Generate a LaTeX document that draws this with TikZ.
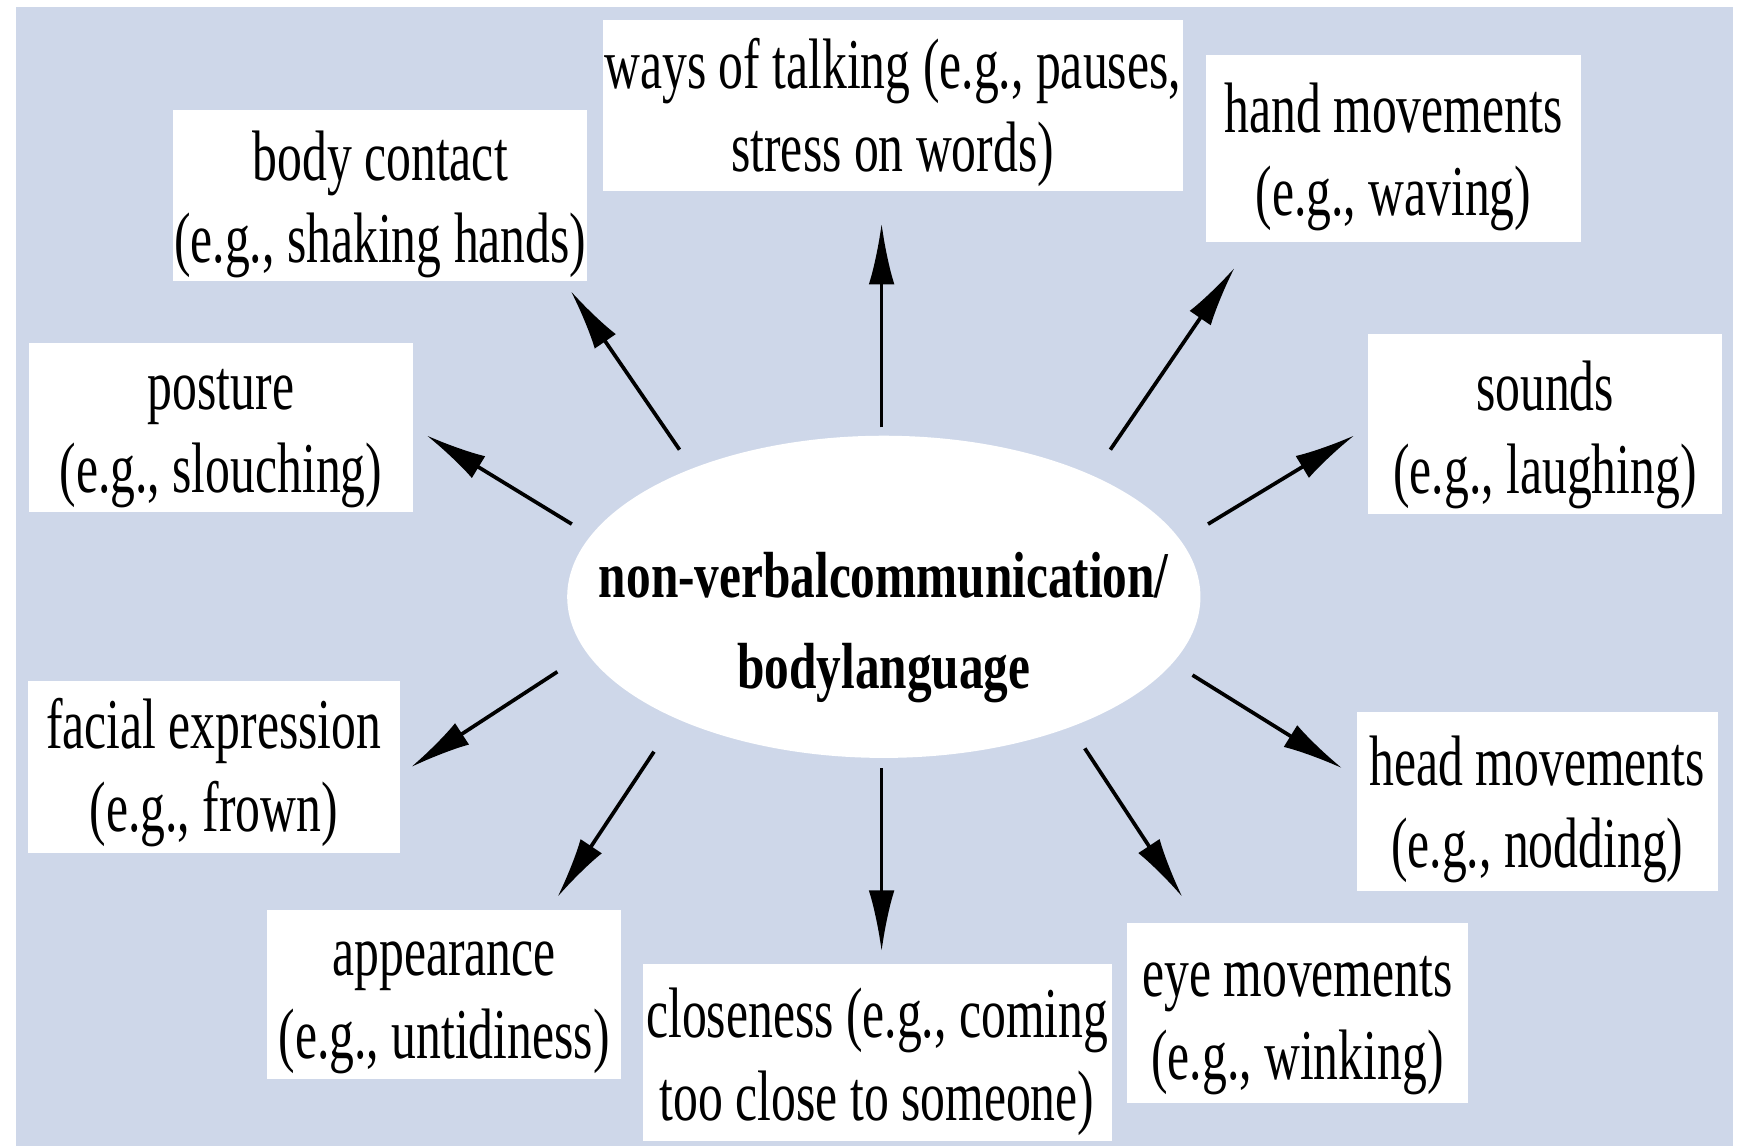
\documentclass[tikz,border=0pt]{standalone}
\usepackage{fontspec}
\setmainfont[FakeStretch=0.695]{Liberation Serif}
\newfontfamily\ellfont[FakeStretch=0.756]{Liberation Serif}
\usetikzlibrary{arrows.meta,shapes.geometric}
\definecolor{bgblue}{RGB}{206,215,233}
\begin{document}
\begin{tikzpicture}[x=0.01cm,y=-0.01cm,
  box/.style={fill=white, inner sep=0pt},
  txt/.style={inner sep=0pt, align=center, font=\fontsize{18.3}{21.2}\selectfont},
  arr/.style={-{Latex[length=5.5mm,width=2.3mm]}, line width=0.95pt, black}]
\useasboundingbox (0,0) rectangle (1568,1032);
\fill[bgblue] (14,6) rectangle (1561,1032);

% central ellipse
\node[ellipse, fill=white, inner sep=0pt, minimum width=5.70cm, minimum height=2.90cm] (ell) at (796,537.5) {};
\node[align=center, inner sep=0pt, font=\ellfont\bfseries\fontsize{16.7}{23.4}\selectfont] (elltxt) at (796,565) {non-verbalcommunication/\\bodylanguage};

% boxes
\node[box, minimum width=5.22cm, minimum height=1.54cm] (talk) at (804,95) {};
\node[txt] (talkT) at (804,101) {ways of talking (e.g., pauses,\\stress on words)};
\node[box, minimum width=3.38cm, minimum height=1.68cm] (hand) at (1255,134) {};
\node[txt] (handT) at (1255,141) {hand movements\\(e.g., waving)};
\node[box, minimum width=3.73cm, minimum height=1.54cm] (body) at (342.5,176) {};
\node[txt] (bodyT) at (342.5,184) {body contact\\(e.g., shaking hands)};
\node[box, minimum width=3.46cm, minimum height=1.52cm] (posture) at (199,385) {};
\node[txt] (postureT) at (199,395) {posture\\(e.g., slouching)};
\node[box, minimum width=3.19cm, minimum height=1.62cm] (sounds) at (1391.5,382) {};
\node[txt] (soundsT) at (1391.5,392) {sounds\\(e.g., laughing)};
\node[box, minimum width=3.35cm, minimum height=1.55cm] (facial) at (192.5,690.5) {};
\node[txt] (facialT) at (192.5,696) {facial expression\\(e.g., frown)};
\node[box, minimum width=3.25cm, minimum height=1.61cm] (head) at (1384.5,721.5) {};
\node[txt] (headT) at (1384.5,729) {head movements\\(e.g., nodding)};
\node[box, minimum width=3.18cm, minimum height=1.52cm] (appear) at (400,896) {};
\node[txt] (appearT) at (400,908) {appearance\\(e.g., untidiness)};
\node[box, minimum width=4.22cm, minimum height=1.60cm] (close) at (790,948) {};
\node[txt] (closeT) at (790,956) {closeness (e.g., coming\\too close to someone)};
\node[box, minimum width=3.07cm, minimum height=1.62cm] (eye) at (1168.5,912) {};
\node[txt] (eyeT) at (1168.5,924) {eye movements\\(e.g., winking)};

% arrow ends
\coordinate (s1) at (794,385);   \coordinate (e1) at (794,201);
\coordinate (s2) at (1000,405);  \coordinate (e2) at (1112,241);
\coordinate (s3) at (1088,472);  \coordinate (e3) at (1220,392);
\coordinate (s4) at (1074,608);  \coordinate (e4) at (1209,692);
\coordinate (s5) at (977,674);   \coordinate (e5) at (1065,808);
\coordinate (s6) at (794,692);   \coordinate (e6) at (794,857);
\coordinate (s7) at (589,677);   \coordinate (e7) at (502,808);
\coordinate (s8) at (502,605);   \coordinate (e8) at (370,691);
\coordinate (s9) at (515,472);   \coordinate (e9) at (384,392);
\coordinate (s10) at (612,405);  \coordinate (e10) at (514,262);

\foreach \i in {1,...,10} {\draw[arr] (s\i) -- (e\i);}
\end{tikzpicture}
\end{document}
